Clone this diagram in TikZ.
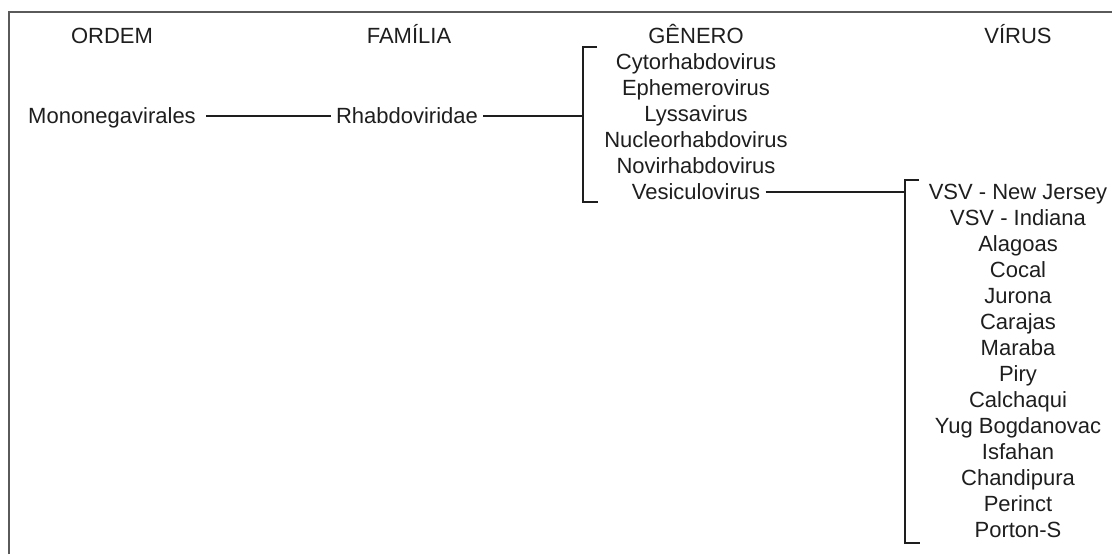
\documentclass[tikz,border=0pt]{standalone}
\usepackage{fontspec}
\setmainfont{Liberation Sans}
\usetikzlibrary{positioning}

\definecolor{inkgray}{HTML}{1E1E1E}
\definecolor{framegray}{HTML}{5A5A5A}

\tikzset{
    taxon/.style = {text=inkgray, inner sep=2.5pt,
        text height=7.9pt, text depth=0pt},
    link/.style = {draw=inkgray, line width=0.7pt},
}

\begin{document}
\begin{tikzpicture} [x=0.5pt, y=-0.5pt,
            node distance = 13pt,
            on grid,
            font=\fontsize{11}{13}\selectfont]

        \useasboundingbox (0,0) rectangle (1112,554);

        % Frame
        \draw [framegray, line width=1pt] (9,554) -- (9,12) -- (1112,12);

        % Column heads
        \node (ordem)   [taxon] at (112,36)  {ORDEM};
        \node (familia) [taxon] at (409,36)  {FAMÍLIA};
        \node (genero)  [taxon] at (696,36)  {GÊNERO};
        \node (virus)   [taxon] at (1018,36) {VÍRUS};

        % Order and family
        \node (mono) [taxon] at (112,116) {Mononegavirales};
        \node (rhab) [taxon] at (407,116) {Rhabdoviridae};

        % Genera
        \node (cyto) [taxon] at (696,62) {Cytorhabdovirus};
        \node (ephe) [taxon, below = of cyto] {Ephemerovirus};
        \node (lyss) [taxon, below = of ephe] {Lyssavirus};
        \node (nucl) [taxon, below = of lyss] {Nucleorhabdovirus};
        \node (novi) [taxon, below = of nucl] {Novirhabdovirus};
        \node (vesi) [taxon, below = of novi] {Vesiculovirus};

        % Viruses
        \node (vsvnj) [taxon] at (1018,192) {VSV - New Jersey};
        \node (vsvin) [taxon, below = of vsvnj] {VSV - Indiana};
        \node (alag)  [taxon, below = of vsvin] {Alagoas};
        \node (coca)  [taxon, below = of alag]  {Cocal};
        \node (juro)  [taxon, below = of coca]  {Jurona};
        \node (cara)  [taxon, below = of juro]  {Carajas};
        \node (mara)  [taxon, below = of cara]  {Maraba};
        \node (piry)  [taxon, below = of mara]  {Piry};
        \node (calc)  [taxon, below = of piry]  {Calchaqui};
        \node (yugb)  [taxon, below = of calc]  {Yug Bogdanovac};
        \node (isfa)  [taxon, below = of yugb]  {Isfahan};
        \node (chan)  [taxon, below = of isfa]  {Chandipura};
        \node (peri)  [taxon, below = of chan]  {Perinct};
        \node (port)  [taxon, below = of peri]  {Porton-S};

        % Bracket corners
        \coordinate (gtop) at (597,47);
        \coordinate (gbot) at (598,202);
        \coordinate (vtop) at (919,180);
        \coordinate (vbot) at (920,543);

        % Links
        \draw [link] ([xshift=2.5pt]mono.east) -- (rhab.west);
        \draw [link] (rhab.east) -- (rhab.east -| 583,0);
        \draw [link] (vesi.east) -- (vesi.east -| 905,0);

        % Brackets
        \draw [link] (gtop) -- (gtop -| 583,0) -- (gbot -| 583,0) -- (gbot);
        \draw [link] (vtop) -- (vtop -| 905,0) -- (vbot -| 905,0) -- (vbot);
\end{tikzpicture}
\end{document}
